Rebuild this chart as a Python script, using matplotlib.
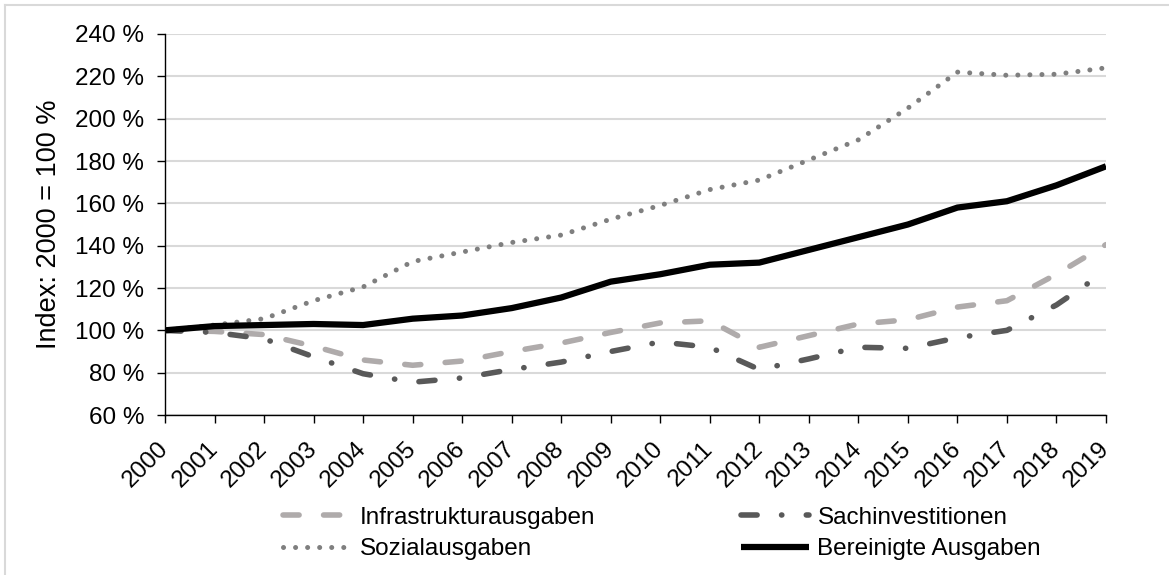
import matplotlib as mpl
import matplotlib.pyplot as plt
from matplotlib.lines import Line2D
from matplotlib.ticker import FuncFormatter, MultipleLocator

mpl.rcParams['font.family'] = ['Liberation Sans', 'DejaVu Sans']

years = list(range(2000, 2020))

infra = [100, 99.5, 98, 92.5, 86, 83.5, 85.5, 90, 94, 99,
         103.5, 104.5, 92, 97.5, 103, 105, 111, 114, 126.5, 140.5]
sach = [100, 99, 96, 87.5, 79.5, 75.5, 77.5, 81.5, 85, 90,
        94.5, 92, 81.5, 86.5, 92, 91.5, 96.5, 100, 112, 128]
sozial = [100, 102.5, 105.5, 114, 120.5, 132.5, 137, 141.5, 145, 152.5,
          159, 166.5, 171, 180.5, 190, 205, 222, 220.5, 221, 224]
bereinigt = [100, 102, 102.5, 103, 102.5, 105.5, 107, 110.5, 115.5, 123,
             126.5, 131, 132, 138, 144, 150, 158, 161, 168.5, 177.5]

labels = ['Infrastrukturausgaben', 'Sachinvestitionen',
          'Sozialausgaben', 'Bereinigte Ausgaben']

fig = plt.figure(figsize=(11.69, 5.75), dpi=100, facecolor='white')
ax = fig.add_axes([165/1169, 1 - 415/575, 941/1169, 381/575])

l1, = ax.plot(years, infra, color='#afabab', lw=4, dashes=(2.9, 4.4),
              dash_capstyle='round', zorder=3)
l2, = ax.plot(years, sach, color='#595959', lw=4, dashes=(2.9, 4.4, 0.05, 4.4),
              dash_capstyle='round', zorder=3)
l3, = ax.plot(years, sozial, color='#7f7f7f', lw=3.6, dashes=(0.01, 2.4),
              dash_capstyle='round', zorder=3)
l4, = ax.plot(years, bereinigt, color='black', lw=4.5, solid_joinstyle='round',
              solid_capstyle='butt', zorder=4)

ax.set_xlim(2000, 2019)
ax.set_ylim(60, 240)
ax.yaxis.set_major_locator(MultipleLocator(20))
ax.yaxis.set_major_formatter(FuncFormatter(lambda v, p: f'{v:.0f} %'))
ax.set_xticks(years)
ax.set_xticklabels([str(y) for y in years], rotation=45, ha='right',
                   va='center', rotation_mode='anchor')

ax.grid(axis='y', color='#d9d9d9', lw=1.5, zorder=0)
ax.set_axisbelow(True)
for s in ['top', 'right']:
    ax.spines[s].set_visible(False)
for s in ['left', 'bottom']:
    ax.spines[s].set_color('black')
    ax.spines[s].set_linewidth(1.0)

ax.tick_params(axis='y', labelsize=17.5, length=6, width=1, pad=9)
ax.tick_params(axis='x', labelsize=17.5, length=6, width=1, pad=16)

ax.set_ylabel('Index: 2000 = 100 %', fontsize=19.5)
ax.yaxis.set_label_coords(-0.1095, 0.5)

# row-wise order like the original: Infra | Sach, Sozial | Bereinigte
order = [0, 2, 1, 3]
handles = [l1, l2, l3, l4]
fig.legend([handles[i] for i in order], [labels[i] for i in order],
           ncol=2, frameon=False, fontsize=17.5,
           loc='center left', bbox_to_anchor=(283/1169, 1 - 533.5/575),
           handlelength=2.8, handletextpad=0.35, columnspacing=6.0,
           labelspacing=0.4, borderaxespad=0, borderpad=0)

# light frame (only top and left edge visible in the original crop)
fig.add_artist(Line2D([5/1169, 1], [1 - 5/575, 1 - 5/575], color='#d9d9d9',
                      lw=1.5, transform=fig.transFigure))
fig.add_artist(Line2D([5/1169, 5/1169], [0, 1 - 5/575], color='#d9d9d9',
                      lw=1.5, transform=fig.transFigure))

plt.savefig('out.png', dpi=100, facecolor='white')
